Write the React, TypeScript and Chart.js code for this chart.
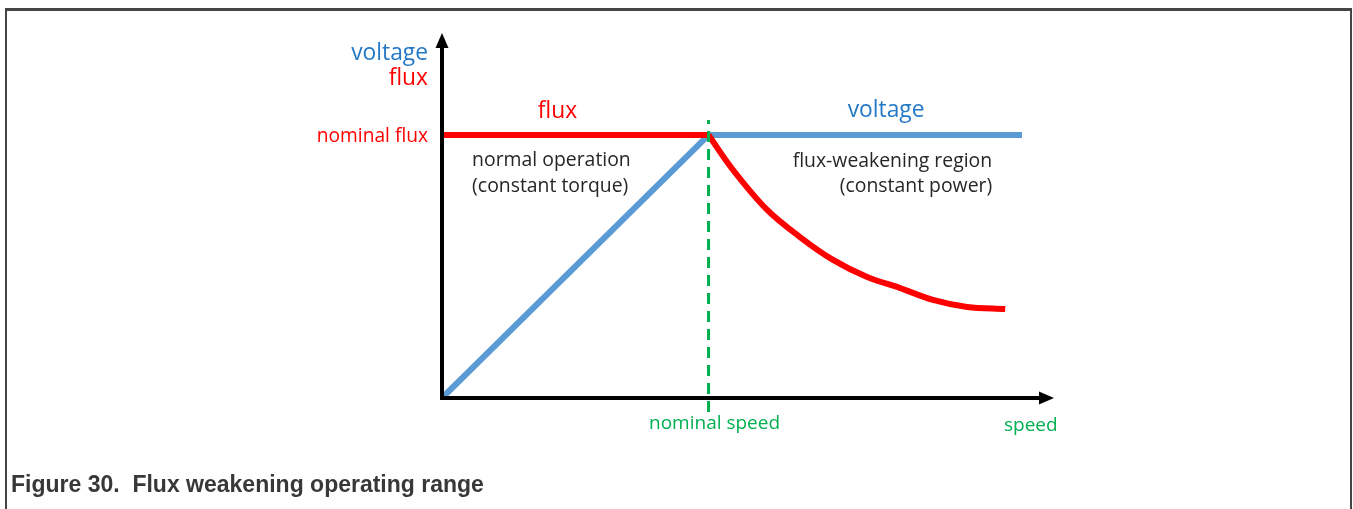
import React, { useEffect, useRef } from "react";
import { Chart, registerables } from "chart.js";

Chart.register(...registerables);

// speed (nominal speed = 1) and magnitude (nominal = 1)
const voltageSpeed = [0, 1, 2.176];
const voltageValue = [0, 1, 1];

const fluxFlatSpeed = [0, 1];
const fluxFlatValue = [1, 1];

const fluxWeakSpeed = [1, 1.092, 1.22, 1.343, 1.467, 1.595, 1.719, 1.842, 1.97, 2.113];
const fluxWeakValue = [1, 0.867, 0.715, 0.612, 0.525, 0.46, 0.418, 0.373, 0.346, 0.338];

const nominalSpeedMarker = [1, 1];
const nominalSpeedMarkerValue = [-0.053, 1.057];

const xAxisLabel = "speed";
const yAxisLabels = ["voltage", "flux"];
const nominalFluxLabel = "nominal flux";
const nominalSpeedLabel = "nominal speed";
const caption = "Figure 30.  Flux weakening operating range";

const BLUE = "#5b9bd5";
const BLUE_TEXT = "#2479c7";
const RED = "#ff0000";
const GREEN = "#00b050";
const TEXT = "#262626";
const FONT = '"Open Sans", "Noto Sans", sans-serif';

const toPoints = (xs: number[], ys: number[]) => xs.map((x, i) => ({ x, y: ys[i] }));

const decorPlugin = {
  id: "decor",
  afterDatasetsDraw(chart: any) {
    const { ctx, scales } = chart;
    const xs = scales.x;
    const ys = scales.y;
    const px = (v: number) => xs.getPixelForValue(v);
    const py = (v: number) => ys.getPixelForValue(v);
    const ox = px(0);
    const oy = py(0);
    const top = chart.chartArea.top;
    const right = chart.chartArea.right;

    ctx.save();
    // axes
    ctx.strokeStyle = "#000";
    ctx.fillStyle = "#000";
    ctx.lineWidth = 4;
    ctx.lineCap = "butt";
    ctx.beginPath();
    ctx.moveTo(ox, oy + 2);
    ctx.lineTo(ox, top + 12);
    ctx.moveTo(ox - 2, oy);
    ctx.lineTo(right - 12, oy);
    ctx.stroke();
    // arrow heads
    ctx.beginPath();
    ctx.moveTo(ox, top);
    ctx.lineTo(ox - 6.5, top + 15);
    ctx.lineTo(ox + 6.5, top + 15);
    ctx.closePath();
    ctx.fill();
    ctx.beginPath();
    ctx.moveTo(right, oy);
    ctx.lineTo(right - 15, oy - 6.5);
    ctx.lineTo(right - 15, oy + 6.5);
    ctx.closePath();
    ctx.fill();

    ctx.textBaseline = "alphabetic";
    // y axis labels
    ctx.textAlign = "right";
    ctx.font = `22.8px ${FONT}`;
    ctx.fillStyle = BLUE_TEXT;
    ctx.fillText(yAxisLabels[0], ox - 14, 60);
    ctx.fillStyle = RED;
    ctx.fillText(yAxisLabels[1], ox - 14, 85);
    ctx.font = `19.2px ${FONT}`;
    ctx.fillText(nominalFluxLabel, ox - 14, py(1) + 7);

    // x axis labels
    ctx.fillStyle = GREEN;
    ctx.textAlign = "center";
    ctx.font = `19px ${FONT}`;
    ctx.fillText(nominalSpeedLabel, px(1) + 6, oy + 31);
    ctx.textAlign = "left";
    ctx.fillText(xAxisLabel, 1004, oy + 33);

    // curve labels
    ctx.font = `22.8px ${FONT}`;
    ctx.textAlign = "center";
    ctx.fillStyle = RED;
    ctx.fillText("flux", px(0.433), py(1.065));
    ctx.fillStyle = BLUE_TEXT;
    ctx.fillText("voltage", px(1.666), py(1.068));

    // region labels
    ctx.font = `19.4px ${FONT}`;
    ctx.fillStyle = TEXT;
    ctx.textAlign = "left";
    ctx.fillText("normal operation", px(0.113), py(0.882));
    ctx.fillText("(constant torque)", px(0.113), py(0.783));
    ctx.textAlign = "right";
    ctx.fillText("flux-weakening region", px(2.064), py(0.878));
    ctx.fillText("(constant power)", px(2.064), py(0.783));
    ctx.restore();
  },
};

export default function App() {
  const ref = useRef<HTMLCanvasElement | null>(null);

  useEffect(() => {
    if (!ref.current) return;
    const chart = new Chart(ref.current, {
      type: "line",
      data: {
        datasets: [
          {
            label: "voltage",
            data: toPoints(voltageSpeed, voltageValue),
            borderColor: BLUE,
            borderWidth: 6,
            pointRadius: 0,
            tension: 0,
            clip: false as any,
            order: 4,
          },
          {
            label: "flux",
            data: toPoints(fluxFlatSpeed, fluxFlatValue),
            borderColor: RED,
            borderWidth: 6,
            pointRadius: 0,
            tension: 0,
            clip: false as any,
            order: 3,
          },
          {
            label: "flux (weakening)",
            data: toPoints(fluxWeakSpeed, fluxWeakValue),
            borderColor: RED,
            borderWidth: 6,
            pointRadius: 0,
            tension: 0.35,
            clip: false as any,
            order: 2,
          },
          {
            label: "nominal speed",
            data: toPoints(nominalSpeedMarker, nominalSpeedMarkerValue),
            borderColor: GREEN,
            borderWidth: 3,
            borderDash: [11, 7],
            pointRadius: 0,
            clip: false as any,
            order: 1,
          },
        ],
      },
      options: {
        animation: false,
        responsive: false,
        events: [],
        layout: { padding: { left: 442, right: 299, top: 33, bottom: 111 } },
        plugins: { legend: { display: false }, tooltip: { enabled: false } },
        scales: {
          x: { type: "linear", min: 0, max: 2.296, display: false },
          y: { type: "linear", min: 0, max: 1.388, display: false },
        },
      },
      plugins: [decorPlugin],
    });
    return () => chart.destroy();
  }, []);

  return (
    <div style={{ position: "absolute", left: 0, top: 0, width: 1353, height: 509, overflow: "hidden", background: "#fff" }}>
      <div
        style={{
          position: "absolute",
          left: 5,
          top: 8,
          width: 1343,
          height: 600,
          borderTop: "3px solid #454545",
          borderLeft: "2px solid #454545",
          borderRight: "2px solid #454545",
        }}
      />
      <canvas ref={ref} width={1353} height={509} style={{ position: "absolute", left: 0, top: 0 }} />
      <div
        style={{
          position: "absolute",
          left: 11,
          top: 471,
          fontFamily: '"Liberation Sans", Arial, sans-serif',
          fontWeight: "bold",
          fontSize: 23,
          color: "#383838",
          whiteSpace: "pre",
        }}
      >
        {caption}
      </div>
    </div>
  );
}
